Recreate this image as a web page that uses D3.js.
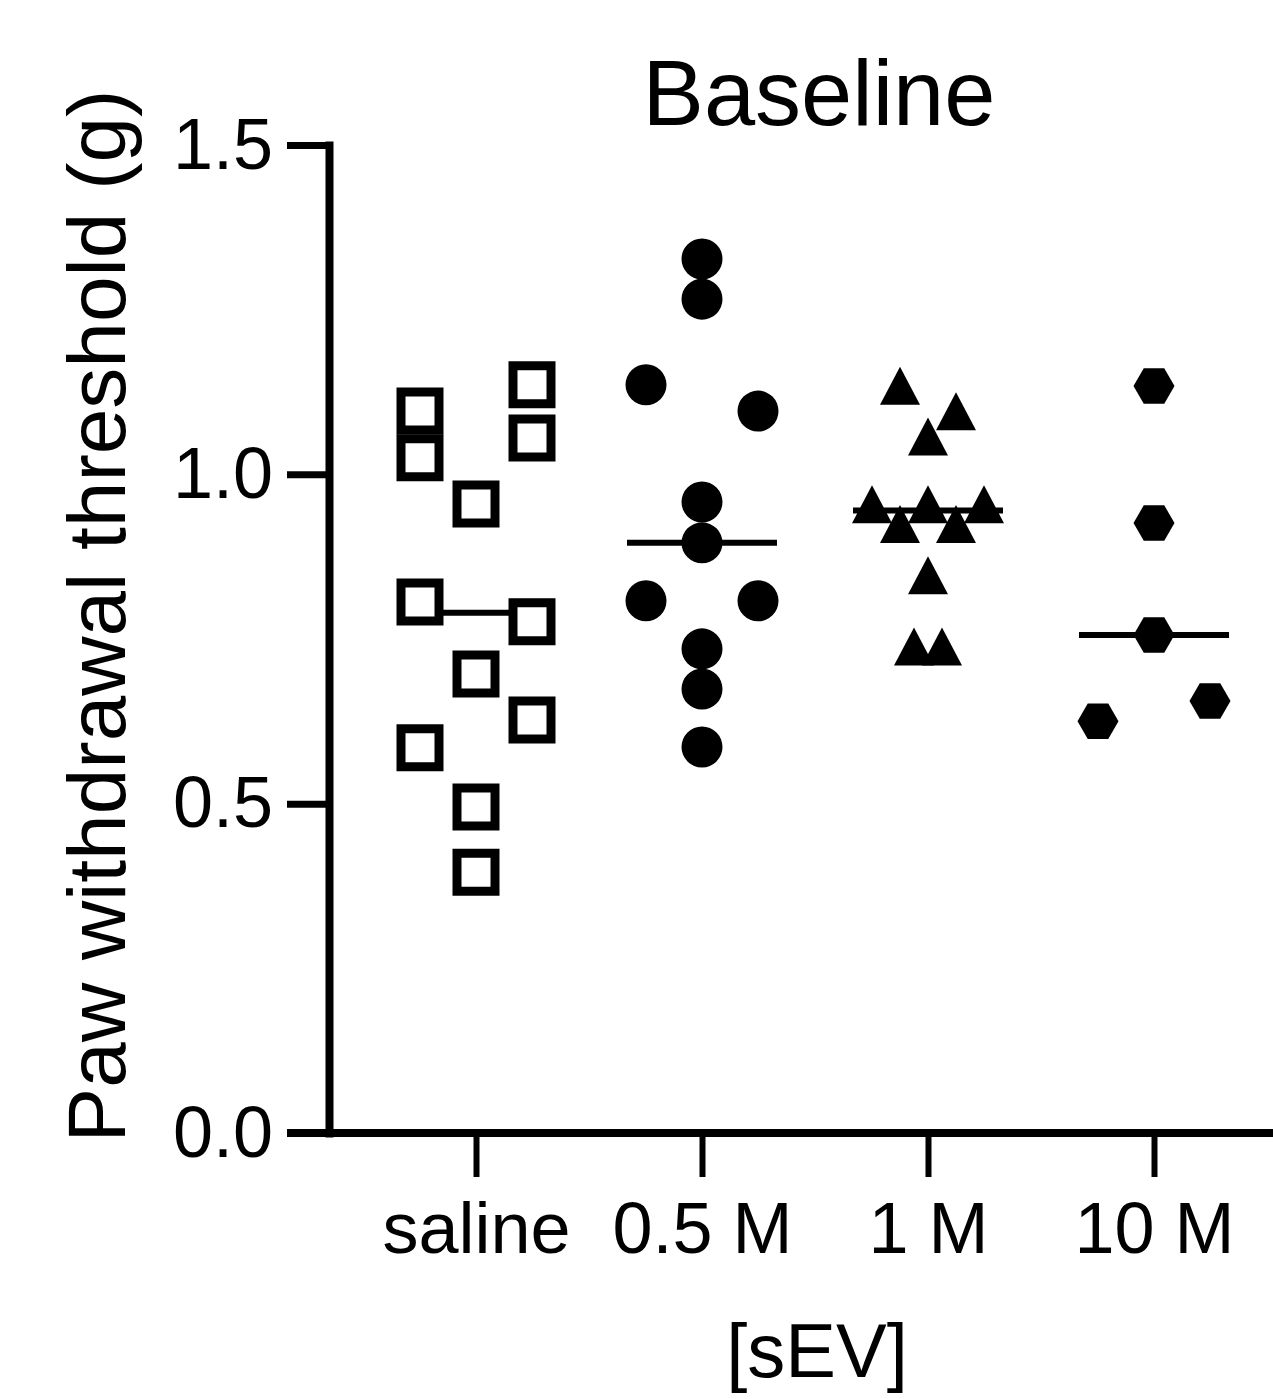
<!DOCTYPE html>
<html>
<head>
<meta charset="utf-8">
<script src="https://cdn.jsdelivr.net/npm/d3@7"></script>
<style>
  html, body { margin: 0; padding: 0; background: #fff; }
  svg { display: block; }
</style>
</head>
<body>
<script>
// ---------------- DATA ----------------
const categories = ["saline", "0.5 M", "1 M", "10 M"];
const yTicks = [0, 0.5, 1.0, 1.5];

const salineValues = [1.096, 1.025, 0.806, 0.585, 0.955, 0.697, 0.495, 0.396, 1.136, 1.055, 0.776, 0.627];
const salineSlots  = [-2, -2, -2, -2, 0, 0, 0, 0, 2, 2, 2, 2];

const sev05Values = [1.327, 1.266, 0.958, 0.896, 0.735, 0.674, 0.586, 1.136, 0.808, 1.096, 0.808];
const sev05Slots  = [0, 0, 0, 0, 0, 0, 0, -2, -2, 2, 2];

const sev1Values = [1.125, 1.086, 1.048, 0.945, 0.945, 0.945, 0.915, 0.915, 0.837, 0.729, 0.729];
const sev1Slots  = [-1, 1, 0, -2, 0, 2, -1, 1, 0, -0.5, 0.5];

const sev10Values = [1.134, 0.926, 0.756, 0.625, 0.656];
const sev10Slots  = [0, 0, 0, -2, 2];

const medians = [0.79, 0.896, 0.945, 0.756];

const titleText = "Baseline";
const yLabel = "Paw withdrawal threshold (g)";
const xLabel = "[sEV]";

// ---------------- LAYOUT ----------------
const W = 1273, H = 1399;
const FONT = "'Liberation Sans', Arial, Helvetica, sans-serif";

const svg = d3.select("body").append("svg")
  .attr("width", W).attr("height", H)
  .attr("font-family", FONT);

const y = d3.scaleLinear().domain([0, 1.5]).range([1133, 145]);
const x = d3.scalePoint().domain(categories).range([476, 1154]);
const slotStep = 28;

// custom symbol types
const triangleType = {
  draw(ctx) {
    const w = 40, h = 38;
    ctx.moveTo(0, -2 * h / 3);
    ctx.lineTo(w / 2, h / 3);
    ctx.lineTo(-w / 2, h / 3);
    ctx.closePath();
  }
};
const hexType = {
  draw(ctx) {
    const r = 20.5;
    for (let i = 0; i < 6; i++) {
      const a = i * Math.PI / 3;
      const px = r * Math.cos(a), py = r * Math.sin(a);
      if (i === 0) ctx.moveTo(px, py); else ctx.lineTo(px, py);
    }
    ctx.closePath();
  }
};

const groups = [
  { cat: categories[0], values: salineValues, slots: salineSlots,
    symbol: d3.symbol(d3.symbolSquare, 38 * 38), fill: "#fff", stroke: "#000", sw: 9 },
  { cat: categories[1], values: sev05Values, slots: sev05Slots,
    symbol: d3.symbol(d3.symbolCircle, Math.PI * 20.5 * 20.5), fill: "#000", stroke: "none", sw: 0 },
  { cat: categories[2], values: sev1Values, slots: sev1Slots,
    symbol: d3.symbol(triangleType), fill: "#000", stroke: "none", sw: 0 },
  { cat: categories[3], values: sev10Values, slots: sev10Slots,
    symbol: d3.symbol(hexType), fill: "#000", stroke: "none", sw: 0 }
];

// ---------------- AXES ----------------
const yAxisG = svg.append("g")
  .attr("transform", "translate(329,0)")
  .call(d3.axisLeft(y).tickValues(yTicks).tickSize(42).tickSizeOuter(0)
        .tickPadding(14).tickFormat(d3.format(".1f")));
yAxisG.attr("font-family", FONT).attr("font-size", 72);
yAxisG.select(".domain").attr("stroke", "#000").attr("stroke-width", 8).attr("stroke-linecap", "square");
yAxisG.selectAll(".tick line").attr("stroke", "#000").attr("stroke-width", 7);
yAxisG.selectAll(".tick text").attr("fill", "#000");

const xAxisG = svg.append("g")
  .attr("transform", `translate(0,${y(0)})`)
  .call(d3.axisBottom(x).tickSize(44).tickSizeOuter(0).tickPadding(25));
xAxisG.attr("font-family", FONT).attr("font-size", 72);
xAxisG.select(".domain").remove();
xAxisG.selectAll(".tick line").attr("stroke", "#000").attr("stroke-width", 6);
xAxisG.selectAll(".tick text").attr("fill", "#000");

svg.append("line")
  .attr("x1", 329 - 42).attr("x2", W)
  .attr("y1", y(0)).attr("y2", y(0))
  .attr("stroke", "#000").attr("stroke-width", 8);

// ---------------- MEDIAN LINES ----------------
svg.append("g").selectAll("line")
  .data(categories.map((c, i) => ({ c, m: medians[i] })))
  .join("line")
  .attr("x1", d => x(d.c) - 75)
  .attr("x2", d => x(d.c) + 75)
  .attr("y1", d => y(d.m))
  .attr("y2", d => y(d.m))
  .attr("stroke", "#000")
  .attr("stroke-width", 6);

// ---------------- POINTS ----------------
groups.forEach(g => {
  const pts = g.values.map((v, i) => ({ v, s: g.slots[i] }));
  svg.append("g").selectAll("path")
    .data(pts)
    .join("path")
    .attr("d", g.symbol)
    .attr("transform", d => `translate(${x(g.cat) + d.s * slotStep},${y(d.v)})`)
    .attr("fill", g.fill)
    .attr("stroke", g.stroke)
    .attr("stroke-width", g.sw);
});

// ---------------- TEXTS ----------------
svg.append("text")
  .attr("x", 819).attr("y", 125)
  .attr("text-anchor", "middle")
  .attr("font-size", 92)
  .attr("fill", "#000")
  .text(titleText);

svg.append("text")
  .attr("transform", "translate(125,616) rotate(-90)")
  .attr("text-anchor", "middle")
  .attr("font-size", 82)
  .attr("fill", "#000")
  .text(yLabel);

svg.append("text")
  .attr("x", 817).attr("y", 1377)
  .attr("text-anchor", "middle")
  .attr("font-size", 76)
  .attr("fill", "#000")
  .text(xLabel);
</script>
</body>
</html>
